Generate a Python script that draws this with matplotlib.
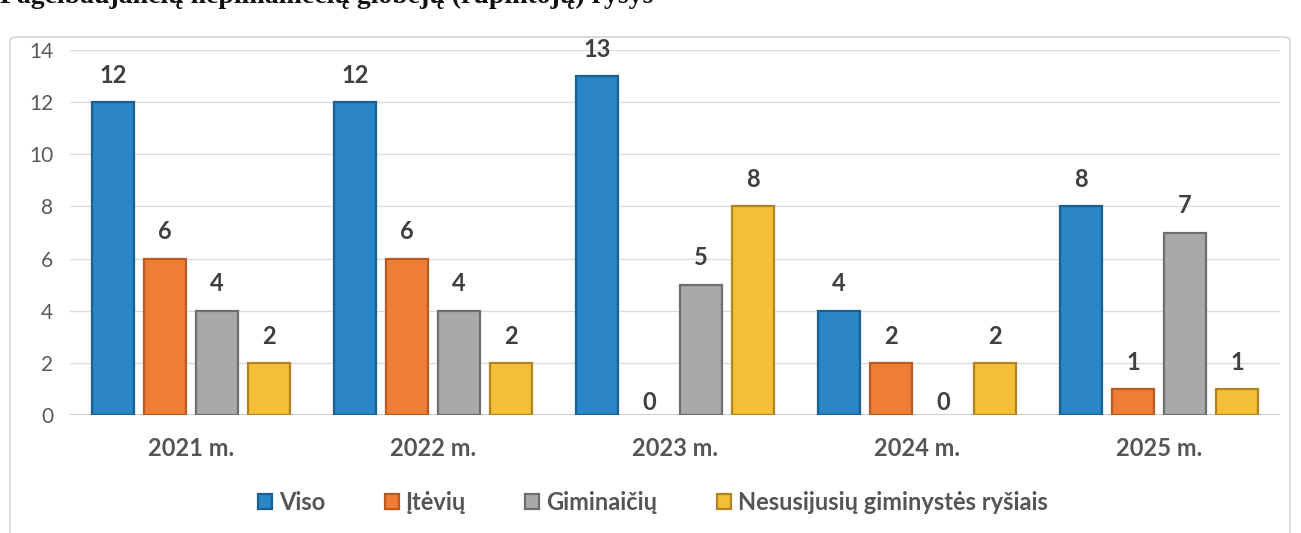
import numpy as np
import matplotlib.pyplot as plt
from matplotlib.patches import FancyBboxPatch

plt.rcParams['font.family'] = ['Lato', 'DejaVu Sans']

# duomenys
metai = ['2021 m.', '2022 m.', '2023 m.', '2024 m.', '2025 m.']
serijos = ['Viso', 'Įtėvių', 'Giminaičių', 'Nesusijusių giminystės ryšiais']
viso = [12, 12, 13, 4, 8]
tevu = [6, 6, 0, 2, 1]
giminaiciu = [4, 4, 5, 0, 7]
nesusijusiu = [2, 2, 8, 2, 1]

spalvos = ['#2a86c6', '#ee7d36', '#a9a9a9', '#f3bf36']
krastai = ['#1b5f8f', '#b85a22', '#6e6e6e', '#b08420']

fig = plt.figure(figsize=(13.01, 5.33), dpi=100)

# remelis aplink diagrama
fig.patches.append(FancyBboxPatch((10 / 1301, -0.05), 1280 / 1301, (533 - 37) / 533 + 0.05,
                                  boxstyle='round,pad=0,rounding_size=0.006',
                                  transform=fig.transFigure, facecolor='white',
                                  edgecolor='#d4d4d4', linewidth=1.2, zorder=-1))

# antraste (apkirpta virsuje)
fig.text(0.0, 1.006, 'Pagelbaujančių nepilnamečių globėjų (rūpintojų) ryšys',
         fontsize=20, fontweight='bold', family='Liberation Serif', color='#111111',
         ha='left', va='center')

ax = fig.add_axes([70 / 1301, 118 / 533, 1210 / 1301, 365 / 533])
ax.set_facecolor('none')

x = np.arange(len(metai))
plotis = 0.175
zingsnis = 0.215
duomenys = [viso, tevu, giminaiciu, nesusijusiu]

for i, (vals, pav) in enumerate(zip(duomenys, serijos)):
    poz = x + (i - 1.5) * zingsnis
    lw = [1.6 if v > 0 else 0 for v in vals]
    ax.bar(poz, vals, width=plotis, color=spalvos[i], edgecolor=krastai[i],
           linewidth=lw, label=pav, zorder=3)
    for xp, v in zip(poz, vals):
        if v == 0:
            ax.annotate(str(v), (xp, 0), xytext=(0, 1), textcoords='offset points',
                        ha='center', va='bottom', fontsize=17, fontweight='bold',
                        color='#3f3f3f')
        else:
            ax.annotate(str(v), (xp, v), xytext=(0, 11), textcoords='offset points',
                        ha='center', va='bottom', fontsize=17, fontweight='bold',
                        color='#3f3f3f')

ax.set_xlim(-0.5, len(metai) - 0.5)
ax.set_ylim(0, 14)
ax.set_yticks(range(0, 15, 2))
ax.set_xticks(x)
ax.set_xticklabels(metai, fontsize=17, fontweight='bold', color='#555555')
ax.tick_params(axis='y', labelsize=15, labelcolor='#595959', length=0, pad=12)
ax.tick_params(axis='x', length=0, pad=16)
ax.grid(axis='y', color='#dcdcdc', linewidth=1, zorder=0)
ax.axhline(0, color='#c4c4c4', linewidth=1.2, zorder=2)
for s in ax.spines.values():
    s.set_visible(False)

leg = fig.legend(loc='center', bbox_to_anchor=(653 / 1301, 31 / 533), ncol=4,
                 frameon=False, fontsize=17, handlelength=0.6, handleheight=0.6,
                 handletextpad=0.3, columnspacing=2.5)
for t in leg.get_texts():
    t.set_color('#555555')
    t.set_fontweight('bold')

fig.savefig('out.png', dpi=100)
